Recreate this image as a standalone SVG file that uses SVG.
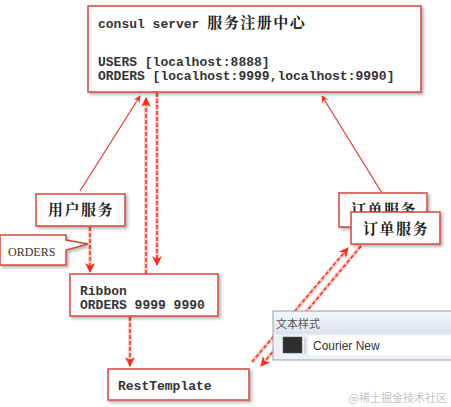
<svg xmlns="http://www.w3.org/2000/svg" width="451" height="407" viewBox="0 0 451 407">
<style>
.box{fill:#fff;stroke:#d2473d;stroke-width:1.5;filter:url(#sh)}
.mono{font-family:"Liberation Mono","Courier New",monospace;font-size:13px;fill:#333;font-weight:bold}
.cjk{font-family:"Noto Serif CJK SC","Noto Sans CJK SC",serif;font-size:15px;fill:#222;font-weight:bold;letter-spacing:1.5px}
.glow{stroke:#ff6a5a;stroke-opacity:.35;stroke-width:4;fill:none}
.solid{stroke:#e0392b;stroke-width:1.2;fill:none}
.dash{stroke:#e0392b;stroke-width:1.5;stroke-dasharray:4 2;fill:none}
</style>
<defs>
<filter id="sh" x="-10%" y="-10%" width="125%" height="140%">
<feDropShadow dx="2" dy="2" stdDeviation="1.5" flood-color="#000" flood-opacity=".3"/>
</filter>
<marker id="ah" viewBox="0 0 10 10" refX="9" refY="5" markerWidth="7" markerHeight="7" markerUnits="userSpaceOnUse" orient="auto">
<path d="M0,0 L10,5 L0,10 L3,5 Z" fill="#ff2a1a"/>
</marker>
<marker id="ahb" viewBox="0 0 10 10" refX="9" refY="5" markerWidth="10" markerHeight="10" markerUnits="userSpaceOnUse" orient="auto">
<path d="M0,0 L10,5 L0,10 L3,5 Z" fill="#ff2a1a"/>
</marker>
</defs>
<g id="connectors">
<line class="solid" x1="80" y1="191" x2="140" y2="96" marker-end="url(#ah)"/>
<line class="solid" x1="382" y1="193" x2="322" y2="96" marker-end="url(#ah)"/>
<line class="glow" x1="146" y1="274" x2="146" y2="100"/>
<line class="dash" x1="146" y1="274" x2="146" y2="98" marker-end="url(#ahb)"/>
<line class="glow" x1="157" y1="93" x2="157" y2="262"/>
<line class="dash" x1="157" y1="93" x2="157" y2="265" marker-end="url(#ahb)"/>
<line class="glow" x1="90" y1="227" x2="90" y2="268"/>
<line class="dash" x1="90" y1="227" x2="90" y2="272" marker-end="url(#ahb)"/>
<line class="glow" x1="130" y1="317" x2="130" y2="360"/>
<line class="dash" x1="130" y1="317" x2="130" y2="366" marker-end="url(#ahb)"/>
<line class="glow" x1="252" y1="362" x2="346" y2="251"/>
<line class="dash" x1="252" y1="362" x2="348" y2="248" marker-end="url(#ahb)"/>
<line class="glow" x1="361" y1="246" x2="264" y2="362"/>
<line class="dash" x1="361" y1="246" x2="261" y2="366" marker-end="url(#ahb)"/>
</g>
<g id="consul">
<rect class="box" x="88" y="6" width="333" height="86"/>
<text class="mono" x="98" y="28">consul server <tspan class="cjk" style="font-size:15px">服务注册中心</tspan></text>
<text class="mono" x="98" y="66">USERS [localhost:8888]</text>
<text class="mono" x="98" y="80">ORDERS [localhost:9999,localhost:9990]</text>
</g>
<g id="user-service">
<rect class="box" x="36" y="194" width="89" height="32"/>
<text class="cjk" x="81" y="215" text-anchor="middle">用户服务</text>
</g>
<g id="orders-callout">
<path class="box" d="M0,235 H66 V240 L88,244 L66,250 V265 H0 Z"/>
<text x="8" y="256" font-family="'Liberation Serif','Times New Roman',serif" font-size="12" fill="#333">ORDERS</text>
</g>
<g id="ribbon">
<rect class="box" x="70" y="274" width="148" height="42"/>
<text class="mono" x="80" y="295">Ribbon</text>
<text class="mono" x="80" y="309">ORDERS 9999 9990</text>
</g>
<g id="resttemplate">
<rect class="box" x="108" y="369" width="141" height="31"/>
<text class="mono" x="118" y="390">RestTemplate</text>
</g>
<g id="order-service-1">
<rect class="box" x="339" y="193" width="88" height="34"/>
<text class="cjk" x="384" y="215" text-anchor="middle">订单服务</text>
</g>
<g id="order-service-2">
<rect class="box" x="351" y="212" width="89" height="32"/>
<text class="cjk" x="396" y="234" text-anchor="middle">订单服务</text>
</g>
<g id="text-style-panel">
<defs>
<linearGradient id="tb" x1="0" y1="0" x2="0" y2="1">
<stop offset="0" stop-color="#f4f6f9"/>
<stop offset="1" stop-color="#dde4ee"/>
</linearGradient>
</defs>
<rect x="273" y="311" width="180" height="49" fill="#eef1f5" stroke="#9aa0a8" stroke-width="1"/>
<rect x="274" y="312" width="178" height="22" fill="url(#tb)"/>
<text x="276" y="328" font-family="'Noto Sans CJK SC',sans-serif" font-size="11" fill="#555">文本样式</text>
<rect x="283" y="337" width="19" height="16" fill="#2e2e2e" stroke="#555" stroke-width="0.5"/>
<line x1="305" y1="337" x2="305" y2="354" stroke="#bbb"/>
<rect x="308" y="335" width="145" height="21" fill="#fff" stroke="#dde" stroke-width="0.5"/>
<text x="313" y="350" font-family="'Liberation Sans',Arial,sans-serif" font-size="12" fill="#333">Courier New</text>
</g>
<text x="447" y="402" text-anchor="end" font-family="'Noto Sans CJK SC',sans-serif" font-size="11" fill="#c4c4c4">@稀土掘金技术社区</text>
</svg>
